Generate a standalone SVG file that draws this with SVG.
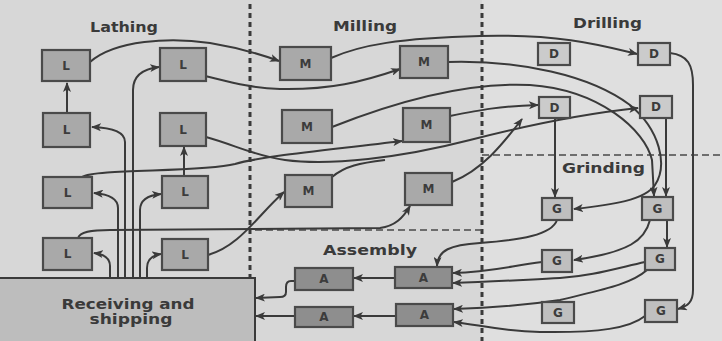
<svg xmlns="http://www.w3.org/2000/svg" width="722" height="341" viewBox="0 0 722 341">
<defs>
<marker id="ah" viewBox="0 0 10 8" refX="9" refY="4" markerWidth="10" markerHeight="8" markerUnits="userSpaceOnUse" orient="auto"><path d="M0,0 L10,4 L0,8 L2.5,4 z" fill="#3a3a3a"/></marker>
</defs>
<style>
.bg{fill:#d7d7d7}
.box{stroke:#4a4a4a;stroke-width:2.2}
.lm{fill:#a9a9a9}
.d{fill:#cbcbcb}
.g{fill:#bfbfbf}
.a{fill:#8e8e8e}
.lt{font-family:"DejaVu Sans",sans-serif;font-weight:bold;font-size:12px;fill:#3c3c3c;text-anchor:middle;dominant-baseline:central}
.lab{font-family:"DejaVu Sans",sans-serif;font-weight:bold;font-size:13.5px;fill:#3a3a3a}
.c{fill:none;stroke:#3a3a3a;stroke-width:2;marker-end:url(#ah)}
.cn{fill:none;stroke:#3a3a3a;stroke-width:2}
.dv{fill:none;stroke:#3a3a3a;stroke-width:3;stroke-dasharray:5 4}
.dh{fill:none;stroke:#4a4a4a;stroke-width:1.6;stroke-dasharray:7 4}
</style>
<rect class="bg" x="0" y="0" width="722" height="341"/>
<rect x="482" y="0" width="240" height="341" fill="#dfdfdf"/>

<g id="dividers">
<line class="dv" x1="250" y1="4" x2="250" y2="278"/>
<line class="dv" x1="482" y1="4" x2="482" y2="341"/>
<line class="dh" x1="255" y1="230" x2="482" y2="230"/>
<line class="dh" x1="482" y1="155" x2="722" y2="155"/>
</g>

<g id="receiving">
<rect x="-2" y="278" width="257" height="66" fill="#bdbdbd" stroke="#3a3a3a" stroke-width="2"/>
<text class="lab" x="128" y="309" text-anchor="middle" textLength="133" lengthAdjust="spacingAndGlyphs">Receiving and</text>
<text class="lab" x="131" y="324" text-anchor="middle" textLength="83" lengthAdjust="spacingAndGlyphs">shipping</text>
</g>

<g id="labels">
<text class="lab" x="90" y="32" textLength="68" lengthAdjust="spacingAndGlyphs">Lathing</text>
<text class="lab" x="333" y="31" textLength="64" lengthAdjust="spacingAndGlyphs">Milling</text>
<text class="lab" x="573" y="28" textLength="69" lengthAdjust="spacingAndGlyphs">Drilling</text>
<text class="lab" x="562" y="173" textLength="83" lengthAdjust="spacingAndGlyphs">Grinding</text>
<text class="lab" x="323" y="255" textLength="94" lengthAdjust="spacingAndGlyphs">Assembly</text>
</g>

<g id="connectors">
<path class="c" d="M90,62 C115,40 170,37 210,43 C240,48 260,54 279,61"/>
<path class="c" d="M205,76 C230,82 250,88 280,89 C330,90 362,82 400,69"/>
<path class="c" d="M331,58 C360,45 400,38 480,36 C560,34 600,45 637,54"/>
<path class="c" d="M67,113 L67,83"/>
<path class="c" d="M184,176 L184,147"/>
<path class="c" d="M110,278 L110,266 Q110,255 94,253"/>
<path class="c" d="M118,278 L118,208 Q118,195 94,193"/>
<path class="c" d="M125,278 L125,142 Q125,128 92,127"/>
<path class="c" d="M133,278 L133,90 Q133,70 159,67"/>
<path class="c" d="M140,278 L140,210 Q140,196 161,194"/>
<path class="c" d="M147,278 L147,268 Q147,256 161,254"/>
<path class="c" d="M82,177 C95,168 200,173 235,164 C262,156 330,150 402,141"/>
<path class="c" d="M206,137 C235,145 255,156 285,160 C330,166 400,158 470,140 C540,122 600,112 638,108"/>
<path class="cn" d="M332,177 C345,166 360,163 385,160"/>
<path class="c" d="M208,255 C240,246 258,215 284,192"/>
<path class="c" d="M78,238 C80,232 90,230 110,230 L380,228 C395,226 403,218 410,206"/>
<path class="c" d="M450,116 C480,110 500,106 538,105"/>
<path class="c" d="M452,182 C482,170 502,145 522,119"/>
<path class="c" d="M448,62 C520,60 590,75 630,105 C660,130 668,165 655,185 C645,200 612,205 574,209"/>
<path class="c" d="M332,127 C400,100 470,82 530,85 C600,90 645,130 652,160 L654,196"/>
<path class="c" d="M555,118 L555,197"/>
<path class="c" d="M666,118 L666,196"/>
<path class="c" d="M670,53 C688,55 693,65 693,85 L693,290 C693,302 688,306 678,309"/>
<path class="c" d="M667,220 L667,247"/>
<path class="c" d="M650,220 C645,240 630,252 574,260"/>
<path class="c" d="M557,220 C552,235 520,240 480,243 C450,245 438,250 437,266"/>
<path class="c" d="M542,262 C510,266 490,272 453,273"/>
<path class="c" d="M645,262 C610,270 590,276 560,278 C520,280 490,282 453,283"/>
<path class="c" d="M647,270 C630,285 600,290 560,300 C520,306 490,308 454,309"/>
<path class="c" d="M645,316 C630,328 600,333 540,332 C500,331 480,325 454,322"/>
<path class="c" d="M395,278 L354,278"/>
<path class="c" d="M396,316 L354,316"/>
<path class="c" d="M295,281 L291,281 Q286,281 286,287 L286,292 Q286,297 280,297 L256,298"/>
<path class="c" d="M295,316 L256,316"/>
</g>

<g id="L1"><rect class="box lm" x="42" y="50" width="48" height="31"/><text class="lt" x="66" y="66">L</text></g>
<g id="L2"><rect class="box lm" x="160" y="48" width="46" height="33"/><text class="lt" x="183" y="65">L</text></g>
<g id="L3"><rect class="box lm" x="43" y="113" width="47" height="34"/><text class="lt" x="66.5" y="130">L</text></g>
<g id="L4"><rect class="box lm" x="160" y="113" width="46" height="33"/><text class="lt" x="183" y="130">L</text></g>
<g id="L5"><rect class="box lm" x="43" y="177" width="49" height="31"/><text class="lt" x="67.5" y="193">L</text></g>
<g id="L6"><rect class="box lm" x="162" y="176" width="46" height="32"/><text class="lt" x="185" y="192">L</text></g>
<g id="L7"><rect class="box lm" x="43" y="238" width="49" height="32"/><text class="lt" x="67.5" y="254">L</text></g>
<g id="L8"><rect class="box lm" x="162" y="239" width="46" height="31"/><text class="lt" x="185" y="255">L</text></g>

<g id="M1"><rect class="box lm" x="280" y="47" width="51" height="33"/><text class="lt" x="305.5" y="64">M</text></g>
<g id="M2"><rect class="box lm" x="400" y="46" width="48" height="32"/><text class="lt" x="424" y="62">M</text></g>
<g id="M3"><rect class="box lm" x="282" y="110" width="50" height="33"/><text class="lt" x="307" y="127">M</text></g>
<g id="M4"><rect class="box lm" x="403" y="108" width="47" height="34"/><text class="lt" x="426.5" y="125">M</text></g>
<g id="M5"><rect class="box lm" x="285" y="175" width="47" height="32"/><text class="lt" x="308.5" y="191">M</text></g>
<g id="M6"><rect class="box lm" x="405" y="173" width="47" height="32"/><text class="lt" x="428.5" y="189">M</text></g>

<g id="D1"><rect class="box d" x="538" y="43" width="32" height="22"/><text class="lt" x="554" y="54">D</text></g>
<g id="D2"><rect class="box d" x="638" y="43" width="32" height="22"/><text class="lt" x="654" y="54">D</text></g>
<g id="D3"><rect class="box d" x="539" y="97" width="31" height="21"/><text class="lt" x="554.5" y="107.5">D</text></g>
<g id="D4"><rect class="box d" x="640" y="96" width="32" height="22"/><text class="lt" x="656" y="107">D</text></g>

<g id="G1"><rect class="box g" x="542" y="198" width="30" height="22"/><text class="lt" x="557" y="209">G</text></g>
<g id="G2"><rect class="box g" x="642" y="197" width="31" height="23"/><text class="lt" x="657.5" y="208.5">G</text></g>
<g id="G3"><rect class="box g" x="542" y="250" width="30" height="22"/><text class="lt" x="557" y="261">G</text></g>
<g id="G4"><rect class="box g" x="645" y="248" width="30" height="22"/><text class="lt" x="660" y="259">G</text></g>
<g id="G5"><rect class="box g" x="542" y="302" width="32" height="21"/><text class="lt" x="558" y="312.5">G</text></g>
<g id="G6"><rect class="box g" x="645" y="300" width="32" height="22"/><text class="lt" x="661" y="311">G</text></g>

<g id="A1"><rect class="box a" x="295" y="268" width="58" height="22"/><text class="lt" x="324" y="279">A</text></g>
<g id="A2"><rect class="box a" x="395" y="267" width="57" height="21"/><text class="lt" x="423.5" y="277.5">A</text></g>
<g id="A3"><rect class="box a" x="295" y="307" width="58" height="20"/><text class="lt" x="324" y="317">A</text></g>
<g id="A4"><rect class="box a" x="396" y="304" width="57" height="22"/><text class="lt" x="424.5" y="315">A</text></g>
</svg>
